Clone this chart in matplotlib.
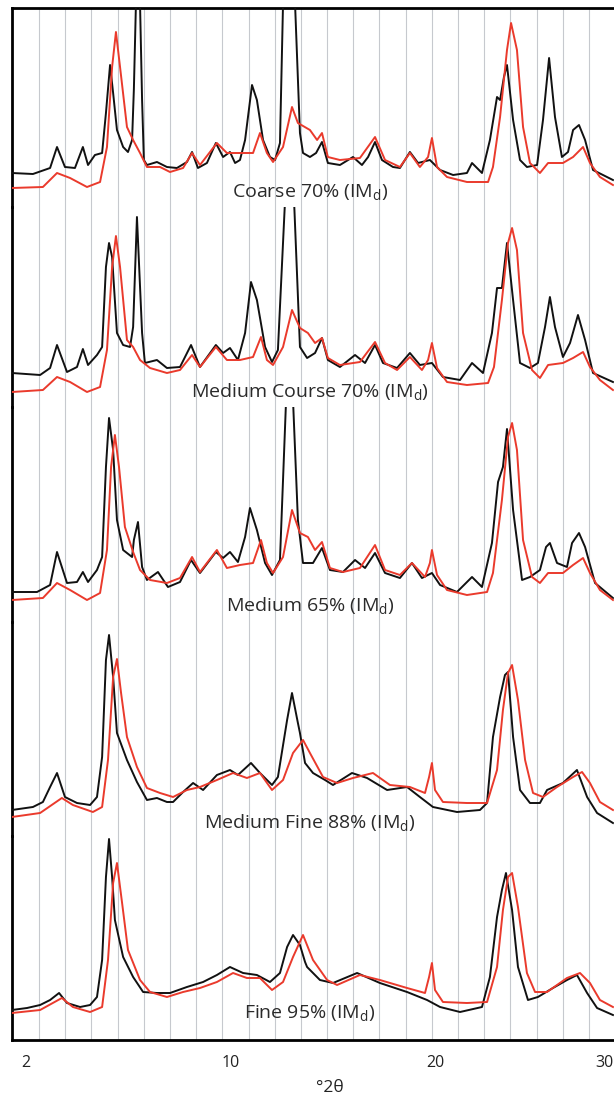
import numpy as np
import matplotlib
matplotlib.use('Agg')
import matplotlib.pyplot as plt
from matplotlib.patches import Rectangle

plt.rcParams['font.family'] = ['Open Sans', 'DejaVu Sans']
plt.rcParams['mathtext.fontset'] = 'custom'
plt.rcParams['mathtext.rm'] = 'Open Sans'
plt.rcParams['mathtext.it'] = 'Open Sans'

# ---------------- data (°2θ, intensity in arbitrary units) ----------------
SAMPLES = ['Coarse 70%', 'Medium Course 70%', 'Medium 65%', 'Medium Fine 88%', 'Fine 95%']
TICKS = [2, 10, 20, 30]
TICK_LABELS = ['2', '10', '20', '30']
X_LABEL = '°2θ'

# Coarse 70%
coarse_black_x = [1.45, 2.27, 2.94, 3.21, 3.52, 3.91, 4.22, 4.42, 4.69, 4.97, 5.12, 5.28, 5.40, 5.55, 5.79, 5.98, 6.14, 6.21, 6.29, 6.37, 6.45, 6.53, 6.60, 6.72, 7.11, 7.50, 7.89, 8.28, 8.48, 8.71, 9.06, 9.41, 9.69, 9.96, 10.20, 10.44, 10.69, 11.03, 11.27, 11.57, 11.91, 12.16, 12.40, 12.55, 12.84, 13.14, 13.38, 13.53, 13.87, 14.17, 14.46, 14.75, 15.34, 15.98, 16.42, 16.72, 17.06, 17.40, 17.94, 18.28, 18.77, 19.17, 19.75, 20.30, 21.07, 21.89, 22.19, 22.78, 23.25, 23.67, 23.85, 24.08, 24.26, 24.62, 25.03, 25.44, 26.04, 26.39, 26.75, 27.10, 27.51, 27.87, 28.17, 28.52, 28.88, 29.35, 30.53]
coarse_black_y = [36, 35, 41, 62, 42, 41, 62, 44, 54, 56, 96, 144, 116, 79, 62, 57, 69, 120, 205, 280, 205, 109, 49, 44, 47, 42, 41, 47, 57, 41, 46, 66, 52, 57, 46, 49, 69, 124, 109, 69, 52, 49, 66, 205, 330, 205, 76, 56, 52, 56, 67, 46, 44, 52, 44, 52, 67, 49, 42, 41, 57, 46, 49, 39, 34, 36, 46, 36, 69, 112, 109, 132, 144, 89, 49, 42, 44, 89, 151, 92, 52, 57, 79, 84, 69, 39, 29]
coarse_red_x = [1.45, 2.66, 3.21, 3.72, 4.38, 4.89, 5.16, 5.36, 5.51, 5.67, 5.94, 6.18, 6.45, 6.72, 7.23, 7.62, 8.13, 8.48, 8.79, 9.45, 9.84, 10.44, 11.08, 11.42, 11.76, 12.06, 12.55, 12.99, 13.28, 13.87, 14.22, 14.46, 14.75, 15.34, 16.32, 17.06, 17.55, 18.28, 18.77, 19.26, 19.66, 19.85, 20.12, 20.71, 21.89, 23.14, 23.43, 23.85, 24.26, 24.50, 24.85, 25.21, 25.62, 26.21, 26.69, 27.57, 28.17, 28.76, 29.17, 29.76, 30.53]
coarse_red_y = [21, 22, 36, 31, 22, 27, 62, 142, 177, 142, 82, 69, 56, 42, 42, 37, 41, 56, 44, 66, 56, 56, 56, 76, 56, 47, 62, 102, 86, 79, 69, 76, 52, 49, 51, 72, 49, 42, 56, 42, 52, 71, 42, 32, 27, 27, 42, 92, 159, 186, 159, 82, 46, 36, 46, 46, 52, 62, 46, 32, 24]

# Medium Course 70%
mcoarse_black_x = [1.45, 2.55, 2.94, 3.21, 3.60, 3.99, 4.22, 4.42, 4.77, 4.97, 5.12, 5.24, 5.36, 5.55, 5.79, 6.06, 6.18, 6.33, 6.53, 6.64, 7.11, 7.50, 8.01, 8.44, 8.79, 9.41, 9.69, 9.96, 10.34, 10.69, 10.98, 11.27, 11.67, 12.01, 12.30, 12.65, 12.84, 13.09, 13.38, 13.73, 14.12, 14.46, 14.75, 15.34, 16.08, 16.57, 17.06, 17.45, 18.14, 18.77, 19.26, 19.85, 20.47, 21.48, 22.19, 22.84, 23.37, 23.67, 23.96, 24.26, 24.62, 25.03, 25.62, 26.09, 26.51, 26.80, 27.10, 27.57, 27.99, 28.46, 28.88, 29.35, 30.53]
mcoarse_black_y = [37, 35, 42, 65, 38, 43, 61, 45, 55, 63, 143, 167, 153, 77, 65, 63, 83, 193, 77, 47, 50, 42, 43, 65, 43, 65, 57, 62, 50, 77, 128, 110, 63, 48, 60, 210, 320, 210, 63, 52, 57, 72, 50, 43, 55, 47, 65, 47, 42, 57, 45, 47, 33, 30, 47, 37, 77, 122, 122, 167, 110, 47, 42, 47, 83, 113, 83, 53, 67, 95, 70, 37, 28]
mcoarse_red_x = [1.45, 2.66, 3.21, 3.72, 4.38, 4.89, 5.16, 5.36, 5.51, 5.67, 5.94, 6.18, 6.45, 6.84, 7.50, 8.01, 8.48, 8.79, 9.41, 9.84, 10.44, 11.08, 11.47, 11.76, 12.06, 12.55, 12.99, 13.38, 13.77, 14.12, 14.46, 14.75, 15.34, 16.32, 17.06, 17.55, 18.14, 18.77, 19.36, 19.66, 19.85, 20.12, 20.71, 21.89, 23.14, 23.49, 23.96, 24.32, 24.56, 24.85, 25.21, 25.74, 26.21, 26.69, 27.57, 28.17, 28.76, 29.17, 29.76, 30.53]
mcoarse_red_y = [18, 20, 33, 28, 18, 23, 60, 143, 174, 143, 70, 63, 50, 42, 37, 40, 55, 43, 63, 50, 50, 53, 73, 50, 45, 63, 100, 82, 77, 67, 72, 52, 45, 48, 68, 47, 40, 53, 40, 50, 67, 42, 28, 25, 27, 43, 110, 167, 182, 160, 77, 40, 32, 45, 47, 52, 58, 43, 30, 20]

# Medium 65%
medium_black_x = [1.45, 2.43, 2.94, 3.21, 3.60, 3.99, 4.22, 4.42, 4.77, 4.97, 5.12, 5.24, 5.40, 5.55, 5.79, 6.14, 6.21, 6.37, 6.53, 6.72, 7.15, 7.54, 8.01, 8.44, 8.79, 9.41, 9.69, 9.96, 10.34, 10.69, 10.93, 11.27, 11.67, 12.01, 12.40, 12.70, 12.89, 13.04, 13.28, 13.53, 14.02, 14.46, 14.85, 15.49, 16.08, 16.57, 17.06, 17.55, 18.28, 18.87, 19.36, 19.85, 20.30, 21.30, 22.19, 22.78, 23.37, 23.73, 24.02, 24.26, 24.62, 25.15, 25.62, 26.21, 26.57, 26.80, 27.22, 27.81, 28.11, 28.52, 28.88, 29.47, 30.53]
medium_black_y = [18, 18, 25, 58, 27, 28, 38, 28, 40, 53, 143, 192, 160, 90, 60, 53, 70, 88, 43, 30, 38, 23, 28, 50, 37, 58, 52, 58, 48, 73, 102, 80, 47, 35, 50, 210, 300, 210, 90, 47, 47, 62, 40, 38, 50, 42, 57, 37, 32, 47, 32, 37, 25, 18, 33, 23, 67, 128, 143, 181, 100, 30, 33, 40, 63, 67, 47, 43, 67, 77, 63, 27, 12]
medium_red_x = [1.45, 2.66, 3.21, 3.72, 4.38, 4.89, 5.16, 5.32, 5.47, 5.63, 5.86, 6.18, 6.45, 6.84, 7.50, 8.01, 8.48, 8.79, 9.45, 9.84, 10.44, 11.08, 11.47, 11.76, 12.06, 12.55, 12.99, 13.38, 13.77, 14.12, 14.46, 14.85, 15.49, 16.32, 17.06, 17.55, 18.28, 18.87, 19.51, 19.75, 19.85, 20.12, 20.71, 21.89, 23.08, 23.43, 23.96, 24.32, 24.56, 24.85, 25.21, 25.74, 26.21, 26.69, 27.57, 28.17, 28.76, 29.17, 29.76, 30.53]
medium_red_y = [10, 12, 27, 20, 10, 17, 60, 143, 175, 143, 83, 58, 40, 30, 27, 32, 53, 38, 60, 42, 45, 47, 70, 47, 37, 53, 100, 77, 73, 60, 68, 42, 38, 42, 65, 40, 35, 47, 33, 47, 60, 35, 20, 15, 18, 37, 110, 173, 187, 160, 70, 33, 27, 37, 37, 45, 52, 37, 20, 10]

# Medium Fine 88%
mfine_black_x = [1.45, 2.27, 2.66, 2.94, 3.21, 3.52, 3.99, 4.50, 4.77, 4.97, 5.12, 5.24, 5.40, 5.55, 5.94, 6.33, 6.72, 7.11, 7.50, 7.74, 8.13, 8.52, 8.91, 9.45, 9.96, 10.34, 10.98, 11.42, 12.01, 12.30, 12.75, 12.99, 13.28, 13.38, 13.63, 14.02, 14.61, 15.00, 15.93, 16.67, 17.65, 18.63, 19.26, 19.90, 21.30, 22.66, 23.08, 23.43, 23.85, 24.14, 24.32, 24.62, 25.03, 25.62, 26.21, 26.63, 27.57, 28.40, 29.00, 29.59, 30.53]
mfine_black_y = [26, 29, 34, 49, 63, 39, 33, 31, 39, 79, 176, 201, 159, 103, 76, 54, 36, 38, 34, 34, 44, 53, 46, 61, 66, 61, 73, 63, 51, 59, 116, 143, 113, 103, 73, 63, 56, 51, 63, 58, 46, 49, 39, 29, 24, 26, 33, 99, 139, 161, 164, 99, 46, 33, 33, 46, 53, 66, 39, 23, 13]
mfine_red_x = [1.45, 2.55, 3.40, 3.83, 4.61, 4.97, 5.20, 5.40, 5.55, 5.71, 5.94, 6.33, 6.72, 7.23, 7.74, 8.28, 8.79, 9.45, 10.10, 10.78, 11.42, 12.01, 12.55, 13.04, 13.53, 13.87, 14.51, 15.20, 15.98, 16.96, 17.79, 18.77, 19.51, 19.71, 19.85, 20.00, 20.47, 21.89, 23.08, 23.67, 24.02, 24.32, 24.56, 24.91, 25.33, 25.80, 26.39, 27.22, 28.17, 28.70, 29.17, 29.76, 30.53]
mfine_red_y = [19, 23, 38, 31, 24, 29, 76, 159, 177, 143, 99, 69, 48, 43, 39, 46, 49, 56, 63, 58, 63, 46, 56, 83, 96, 83, 59, 53, 58, 63, 51, 49, 43, 59, 73, 46, 34, 33, 33, 66, 126, 163, 171, 136, 76, 43, 39, 49, 59, 64, 53, 34, 26]

# Fine 95%
fine_black_x = [1.45, 2.04, 2.55, 2.94, 3.29, 3.60, 4.11, 4.50, 4.77, 4.97, 5.12, 5.24, 5.36, 5.47, 5.79, 6.18, 6.57, 7.11, 7.62, 8.28, 8.91, 9.45, 9.96, 10.59, 11.27, 11.91, 12.40, 12.75, 13.04, 13.38, 13.63, 13.73, 14.36, 15.00, 16.18, 17.30, 18.63, 19.61, 20.30, 21.48, 22.78, 23.25, 23.67, 23.96, 24.20, 24.56, 24.91, 25.50, 26.09, 26.98, 27.81, 28.40, 29.00, 29.59, 30.53]
fine_black_y = [30, 32, 35, 40, 47, 37, 33, 35, 43, 80, 163, 201, 163, 120, 83, 63, 48, 47, 47, 53, 58, 65, 73, 67, 65, 58, 67, 93, 105, 95, 78, 73, 60, 57, 67, 57, 48, 40, 33, 28, 33, 63, 123, 150, 167, 130, 73, 40, 43, 52, 60, 65, 47, 32, 25]
fine_red_x = [1.45, 2.55, 3.40, 3.83, 4.50, 4.97, 5.20, 5.40, 5.55, 5.75, 5.98, 6.45, 6.84, 7.50, 8.13, 8.79, 9.45, 10.10, 10.78, 11.42, 12.01, 12.55, 13.04, 13.53, 14.02, 14.71, 15.20, 16.32, 17.30, 18.63, 19.51, 19.71, 19.85, 20.00, 20.47, 21.89, 23.08, 23.67, 24.02, 24.32, 24.56, 24.91, 25.44, 25.92, 26.63, 27.81, 28.58, 29.17, 29.76, 30.53]
fine_red_y = [27, 30, 42, 33, 28, 33, 80, 157, 177, 137, 90, 60, 48, 43, 48, 52, 58, 67, 62, 62, 50, 58, 83, 105, 80, 60, 55, 65, 60, 52, 47, 63, 77, 50, 38, 37, 38, 73, 130, 163, 167, 133, 67, 48, 48, 62, 67, 57, 40, 33]

BLACK_X = [coarse_black_x, mcoarse_black_x, medium_black_x, mfine_black_x, fine_black_x]
BLACK_Y = [coarse_black_y, mcoarse_black_y, medium_black_y, mfine_black_y, fine_black_y]
RED_X = [coarse_red_x, mcoarse_red_x, medium_red_x, mfine_red_x, fine_red_x]
RED_Y = [coarse_red_y, mcoarse_red_y, medium_red_y, mfine_red_y, fine_red_y]

# ---------------- axis scale (label anchors of the original) ----------------
TH_ANCH = np.array([-10.0, 2.0, 10.0, 20.0, 30.0, 50.0])
U_ANCH = np.array([-281.5, 26.0, 231.0, 435.0, 604.0, 942.0])


def forward(t):
    return np.interp(np.asarray(t, dtype=float), TH_ANCH, U_ANCH)


def inverse(u):
    return np.interp(np.asarray(u, dtype=float), U_ANCH, TH_ANCH)


# ---------------- layout ----------------
W, H = 614, 1102
fig = plt.figure(figsize=(W / 100, H / 100), dpi=100)
fig.patch.set_facecolor('white')

LEFT, RIGHT = 12, 614
PANEL_EDGES = [8, 207, 407, 622, 836, 1040]
YLIMS = [(2, 201), (3, 203), (-12, 203), (0, 214), (0, 204)]
LABEL_BASE = [197, 397, 611, 828, 1018]
GRID_U = 39 + 26.19 * np.arange(22)

BLACK = '#111111'
RED = '#ea3a2c'

axes = []
for i in range(5):
    t, b = PANEL_EDGES[i], PANEL_EDGES[i + 1]
    ax = fig.add_axes([LEFT / W, 1 - b / H, (RIGHT - LEFT) / W, (b - t) / H])
    ax.set_xscale('function', functions=(forward, inverse))
    ax.set_xlim(float(inverse(LEFT)), float(inverse(RIGHT)))
    ax.set_ylim(*YLIMS[i])
    ax.set_facecolor('none')
    ax.set_xticks(TICKS)
    ax.set_xticks(inverse(GRID_U), minor=True)
    ax.grid(True, which='minor', axis='x', color='#c6c9ce', lw=0.8)
    ax.grid(False, which='major')
    ax.tick_params(which='both', length=0)
    ax.set_yticks([])
    for s in ['top', 'bottom', 'right']:
        ax.spines[s].set_visible(False)
    ax.spines['left'].set_linewidth(2.0)
    ax.spines['left'].set_color('black')
    if i == 0:
        ax.spines['top'].set_visible(True)
        ax.spines['top'].set_linewidth(2.0)
    if i == 4:
        ax.spines['bottom'].set_visible(True)
        ax.spines['bottom'].set_linewidth(2.0)
        ax.set_xticklabels(TICK_LABELS, fontsize=11.5, color='#222222')
        ax.tick_params(axis='x', which='major', pad=11)
    else:
        ax.set_xticklabels([])
    ax.plot(BLACK_X[i], BLACK_Y[i], color=BLACK, lw=1.4, solid_joinstyle='round', zorder=3)
    ax.plot(RED_X[i], RED_Y[i], color=RED, lw=1.4, solid_joinstyle='round', zorder=4)
    axes.append(ax)
    fig.text(310 / W, 1 - LABEL_BASE[i] / H, SAMPLES[i] + r' (IM$_{\mathregular{d}}$)',
             ha='center', va='baseline', fontsize=14, color='#2a2a2a')

fig.text(330 / W, 1 - 1088 / H, X_LABEL, ha='center', va='center', fontsize=12.5, color='#222222')

fig.savefig('out.png', dpi=100, facecolor='white')
